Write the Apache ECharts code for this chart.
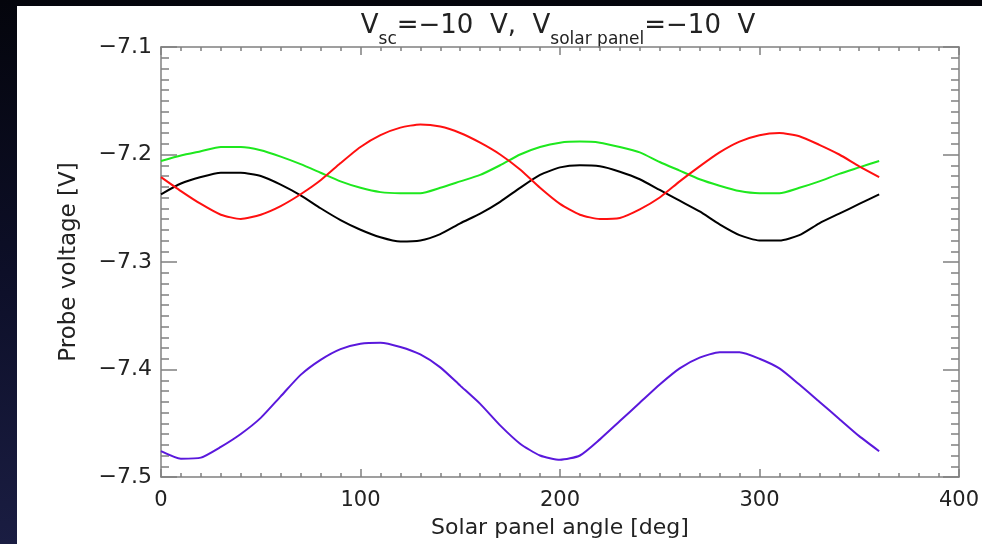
<!DOCTYPE html>
<html><head><meta charset="utf-8">
<script src="https://cdn.jsdelivr.net/npm/echarts@6/dist/echarts.min.js"></script>
<style>
html,body{margin:0;padding:0;width:982px;height:544px;overflow:hidden;background:linear-gradient(180deg,#04050c 0%,#0d0f28 50%,#1a1d42 100%);}
#c{position:absolute;left:17px;top:6px;width:965px;height:538px;background:#fff;}
</style></head><body><div id="c"></div>
<script>
const angles = [0,10,20,30,40,50,60,70,80,90,100,110,120,130,140,150,160,170,180,190,200,210,220,230,240,250,260,270,280,290,300,310,320,330,340,350,360];
const redV = [-7.221,-7.234,-7.246,-7.256,-7.260,-7.256,-7.248,-7.237,-7.224,-7.208,-7.193,-7.182,-7.175,-7.172,-7.174,-7.180,-7.189,-7.200,-7.214,-7.231,-7.246,-7.256,-7.260,-7.259,-7.251,-7.240,-7.225,-7.211,-7.198,-7.188,-7.182,-7.180,-7.183,-7.191,-7.200,-7.211,-7.221];
const greenV = [-7.206,-7.201,-7.197,-7.193,-7.193,-7.196,-7.202,-7.209,-7.217,-7.225,-7.231,-7.235,-7.236,-7.236,-7.231,-7.225,-7.219,-7.210,-7.200,-7.193,-7.189,-7.188,-7.189,-7.193,-7.198,-7.207,-7.215,-7.223,-7.229,-7.234,-7.236,-7.236,-7.231,-7.225,-7.218,-7.212,-7.206];
const blackV = [-7.237,-7.227,-7.221,-7.217,-7.217,-7.220,-7.228,-7.238,-7.250,-7.261,-7.270,-7.277,-7.281,-7.280,-7.274,-7.264,-7.255,-7.244,-7.231,-7.219,-7.212,-7.210,-7.211,-7.216,-7.223,-7.233,-7.243,-7.253,-7.265,-7.275,-7.280,-7.280,-7.275,-7.264,-7.255,-7.246,-7.237];
const purpleV = [-7.476,-7.483,-7.482,-7.472,-7.460,-7.445,-7.425,-7.405,-7.391,-7.381,-7.376,-7.375,-7.379,-7.386,-7.398,-7.415,-7.432,-7.452,-7.469,-7.480,-7.484,-7.480,-7.465,-7.448,-7.431,-7.414,-7.399,-7.389,-7.384,-7.384,-7.390,-7.399,-7.414,-7.430,-7.446,-7.462,-7.476];
const xTicks = [0,100,200,300,400];
const yTicks = [-7.5,-7.4,-7.3,-7.2,-7.1];

const FONT = 'DejaVu Sans';
const AXC = '#808080';
const TXT = '#222';
const chart = echarts.init(document.getElementById('c'));
function pairs(v){ return angles.map((a,i)=>[a,v[i]]); }
function xAx(pos, show){
  return {type:'value', position:pos, min:xTicks[0], max:xTicks[xTicks.length-1], interval:100,
    axisLine:{show:true,onZero:false,lineStyle:{color:AXC,width:1.5}},
    axisTick:{show:true,inside:true,length:8,lineStyle:{color:AXC,width:1.5}},
    minorTick:{show:true,splitNumber:10,length:4,lineStyle:{color:AXC,width:1.5}},
    splitLine:{show:false},minorSplitLine:{show:false},
    axisLabel:{show:show,margin:13,fontSize:21,color:TXT,fontFamily:FONT},
    name: show?'Solar panel angle [deg]':'', nameLocation:'middle', nameGap:40,
    nameTextStyle:{fontSize:22,color:TXT,fontFamily:FONT}};
}
function yAx(pos, show){
  return {type:'value', position:pos, min:yTicks[0], max:yTicks[yTicks.length-1], interval:0.1,
    axisLine:{show:true,onZero:false,lineStyle:{color:AXC,width:1.5}},
    axisTick:{show:true,inside:true,length:16,lineStyle:{color:AXC,width:1.5}},
    minorTick:{show:true,splitNumber:10,length:8,lineStyle:{color:AXC,width:1.5}},
    splitLine:{show:false},minorSplitLine:{show:false},
    axisLabel:{show:show,margin:9,fontSize:22,color:TXT,fontFamily:FONT,
      formatter:v=>v.toFixed(1).replace('-','\u2212')},
    name: show?'Probe voltage [V]':'', nameLocation:'middle', nameGap:80,
    nameTextStyle:{fontSize:23,color:TXT,fontFamily:FONT}};
}
function ser(v,color){
  return {type:'line',data:pairs(v),showSymbol:false,symbol:'none',smooth:0.2,xAxisIndex:0,yAxisIndex:0,
    lineStyle:{color:color,width:2},itemStyle:{color:color},animation:false};
}
chart.setOption({
  animation:false,
  grid:{left:144,top:41,right:22,bottom:66,containLabel:false},
  xAxis:[xAx('bottom',true),xAx('top',false)],
  yAxis:[yAx('left',true),yAx('right',false)],
  graphic:[{type:'text',x:541,y:20,style:{
    text:'{m|V}{s|sc}{m|=\u221210\u00a0\u00a0V,\u00a0\u00a0V}{s|solar\u00a0panel}{m|=\u221210\u00a0\u00a0V}',
    align:'center',verticalAlign:'middle',fill:TXT,
    rich:{m:{fontSize:26,fontFamily:FONT,fill:TXT,color:TXT},
          s:{fontSize:17,fontFamily:FONT,fill:TXT,color:TXT,padding:[27,0,0,0]}}}}],
  series:[ser(purpleV,'#5a18dc'),ser(blackV,'#000000'),ser(greenV,'#1ee81e'),ser(redV,'#ff1010')]
});
</script></body></html>
